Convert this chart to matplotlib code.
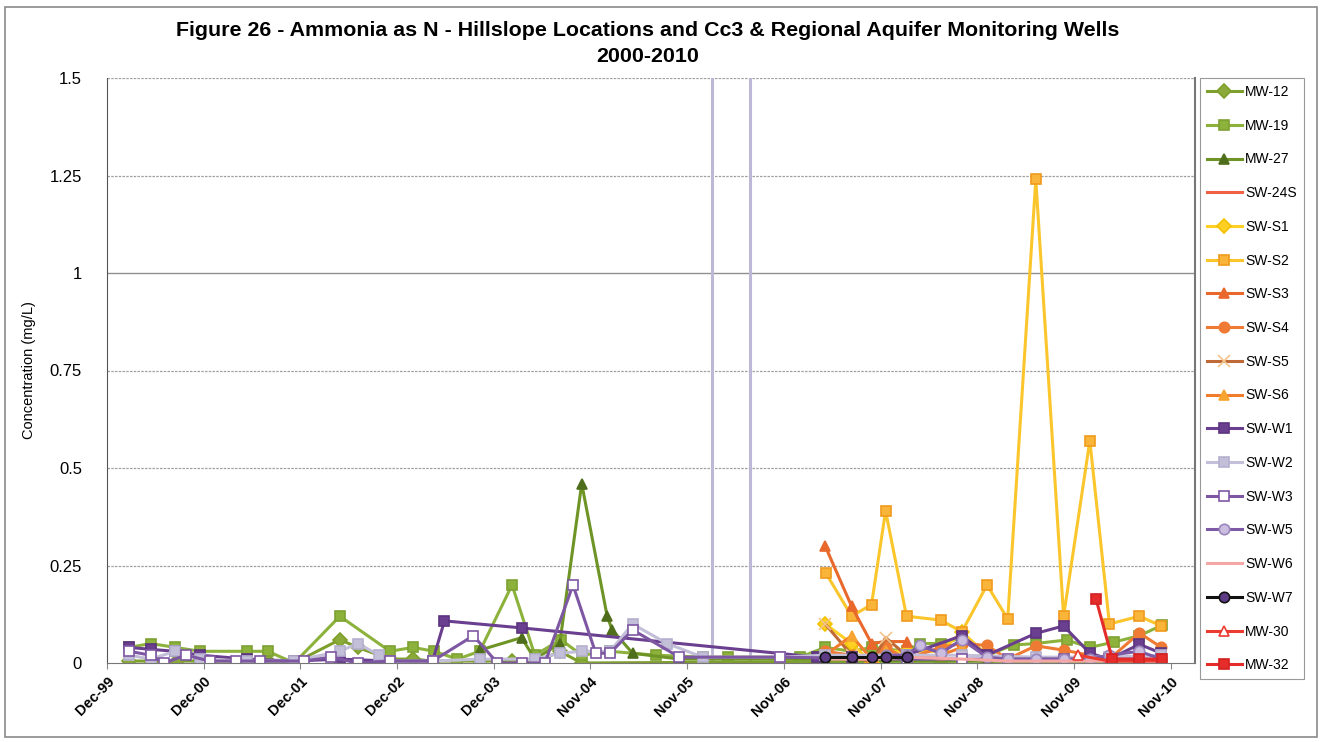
import datetime as dt

import matplotlib
matplotlib.use("Agg")
import matplotlib.pyplot as plt
import matplotlib.dates as mdates
import numpy as np

plt.rcParams['font.family'] = ['Liberation Sans', 'DejaVu Sans']

# ---- data ----
mw12_dates = ['2000-02-24', '2000-05-15', '2000-08-22', '2000-11-18', '2001-05-12', '2001-07-31',
              '2001-11-08', '2002-04-29', '2002-07-05', '2002-11-04', '2003-01-30', '2003-04-14',
              '2003-10-09', '2004-02-08', '2004-05-04', '2004-08-06', '2004-10-28',
              '2008-07-14', '2009-01-05', '2009-07-08', '2010-01-28', '2010-08-03']
mw12_vals = [0.005, 0.005, 0.005, 0.005, 0.005, 0.005, 0.0, 0.06, 0.04, 0.01, 0.01, 0.005,
             0.005, 0.005, 0.0, 0.03, 0.0, 0.005, 0.005, 0.005, 0.005, 0.005]

mw19_dates = ['2000-02-24', '2000-05-15', '2000-08-15', '2000-11-18', '2001-05-12', '2001-07-31',
              '2001-11-08', '2002-04-29', '2002-11-04', '2003-01-30', '2003-04-20', '2003-07-17',
              '2003-10-09', '2004-02-08', '2004-05-04', '2004-08-10', '2004-10-28', '2005-02-12',
              '2005-08-03', '2006-01-28', '2006-05-02', '2006-11-14', '2007-01-29', '2007-05-05',
              '2007-08-13', '2007-10-27', '2008-03-07', '2008-04-26', '2008-07-14', '2008-10-02',
              '2009-01-05', '2009-04-15', '2009-07-08', '2009-11-01', '2010-01-28', '2010-05-01',
              '2010-08-03', '2010-10-28']
mw19_vals = [0.04, 0.05, 0.04, 0.03, 0.03, 0.03, 0.0, 0.12, 0.03, 0.04, 0.03, 0.01,
             0.03, 0.2, 0.02, 0.06, 0.02, 0.03, 0.02, 0.015, 0.015, 0.015, 0.015, 0.04,
             0.03, 0.04, 0.03, 0.05, 0.05, 0.064, 0.02, 0.046, 0.05, 0.059, 0.04, 0.054,
             0.07, 0.097]

mw27_dates = ['2003-10-09', '2004-03-15', '2004-05-04', '2004-08-06', '2004-10-28', '2005-02-01',
              '2005-02-20', '2005-05-08', '2005-11-01', '2007-05-05', '2008-03-07', '2009-01-05',
              '2009-10-21', '2010-08-03']
mw27_vals = [0.033, 0.065, 0.01, 0.05, 0.46, 0.12, 0.085, 0.025, 0.01, 0.01, 0.005, 0.005,
             0.005, 0.005]

sw24s_dates = ['2007-05-05', '2007-08-13', '2007-10-27']
sw24s_vals = [0.02, 0.01, 0.01]

sws1_dates = ['2007-05-05', '2007-08-13', '2007-10-27', '2007-12-19', '2008-03-07', '2008-07-14',
              '2008-10-02', '2009-01-05']
sws1_vals = [0.1, 0.05, 0.0, 0.03, 0.03, 0.03, 0.08, 0.02]

sws2_dates = ['2007-05-08', '2007-08-13', '2007-10-27', '2007-12-19', '2008-03-07', '2008-07-14',
              '2008-10-02', '2009-01-05', '2009-03-24', '2009-07-08', '2009-10-21', '2010-01-28',
              '2010-04-12', '2010-08-03', '2010-10-25']
sws2_vals = [0.23, 0.12, 0.15, 0.39, 0.12, 0.11, 0.08, 0.2, 0.113, 1.24, 0.12, 0.57,
             0.1, 0.12, 0.095]

sws3_dates = ['2007-05-05', '2007-08-13', '2007-10-27', '2007-12-19', '2008-03-07']
sws3_vals = [0.3, 0.145, 0.05, 0.055, 0.055]

sws4_dates = ['2007-05-05', '2007-08-13', '2007-10-27', '2007-12-19', '2008-03-07', '2008-07-14',
              '2008-10-02', '2009-01-05', '2009-03-24', '2009-07-08', '2009-10-21', '2010-01-28',
              '2010-04-12', '2010-08-03', '2010-10-25']
sws4_vals = [0.03, 0.02, 0.01, 0.04, 0.01, 0.04, 0.05, 0.045, 0.01, 0.044, 0.033, 0.02,
             0.01, 0.077, 0.04]

sws5_dates = ['2007-05-05', '2007-08-13', '2007-10-27', '2007-12-19', '2008-03-07']
sws5_vals = [0.1, 0.02, 0.0, 0.065, 0.02]

sws6_dates = ['2007-05-05', '2007-08-13', '2007-10-27', '2007-12-19', '2008-03-07', '2008-07-14',
              '2008-10-02']
sws6_vals = [0.02, 0.07, 0.01, 0.03, 0.01, 0.02, 0.04]

sww1_dates = ['2000-02-24', '2000-05-15', '2000-08-15', '2000-11-18', '2001-05-12', '2001-11-08',
              '2002-04-29', '2002-11-04', '2003-04-14', '2003-05-29', '2004-03-15', '2007-04-05',
              '2007-08-13', '2008-03-07', '2008-10-02', '2009-01-05', '2009-07-08', '2009-10-21',
              '2010-01-28', '2010-04-12', '2010-08-03', '2010-10-25']
sww1_vals = [0.04, 0.035, 0.03, 0.02, 0.01, 0.005, 0.01, 0.005, 0.005, 0.108, 0.09, 0.015,
             0.015, 0.02, 0.07, 0.02, 0.076, 0.095, 0.025, 0.01, 0.048, 0.025]

sww2_dates = ['2000-02-24', '2000-05-15', '2000-08-15', '2000-11-18', '2001-05-12', '2001-11-08',
              '2002-04-29', '2002-07-05', '2002-09-25', '2002-11-04', '2003-04-14', '2003-10-09',
              '2004-05-04', '2004-08-06', '2004-10-28', '2005-02-12', '2005-05-08', '2005-09-15',
              '2006-01-28', '2006-11-14', '2007-05-05', '2008-03-07', '2008-10-02', '2009-07-08',
              '2010-04-12', '2010-10-25']
sww2_vals = [0.02, 0.01, 0.03, 0.01, 0.005, 0.005, 0.03, 0.05, 0.02, 0.005, 0.005, 0.01,
             0.01, 0.025, 0.03, 0.03, 0.1, 0.05, 0.015, 0.015, 0.02, 0.02, 0.02, 0.015,
             0.015, 0.02]

sww3_dates = ['2000-02-24', '2000-05-15', '2000-07-04', '2000-09-25', '2000-12-25', '2001-04-01',
              '2001-07-01', '2001-12-15', '2002-03-25', '2002-07-05', '2002-11-04', '2003-04-14',
              '2003-09-15', '2003-12-15', '2004-03-15', '2004-06-11', '2004-09-25', '2004-12-20',
              '2005-02-12', '2005-05-08', '2005-11-01', '2006-11-14', '2008-03-07', '2008-10-02',
              '2009-03-24', '2009-10-21', '2010-04-12', '2010-10-25']
sww3_vals = [0.03, 0.02, 0.0, 0.02, 0.005, 0.005, 0.005, 0.005, 0.015, 0.0, 0.005, 0.005,
             0.07, 0.0, 0.0, 0.0, 0.2, 0.025, 0.025, 0.085, 0.015, 0.015, 0.01, 0.01,
             0.01, 0.01, 0.01, 0.01]

sww5_dates = ['2007-12-19', '2008-03-07', '2008-04-26', '2008-07-14', '2008-10-02', '2009-01-05',
              '2009-03-24', '2009-07-08', '2009-10-21', '2010-01-28', '2010-04-12', '2010-08-03',
              '2010-10-25']
sww5_vals = [0.02, 0.02, 0.045, 0.025, 0.06, 0.015, 0.01, 0.01, 0.01, 0.01, 0.02, 0.03, 0.01]

sww6_dates = ['2007-05-05', '2007-10-27', '2008-03-07', '2008-10-02', '2009-03-24', '2009-10-21',
              '2010-04-12', '2010-10-25']
sww6_vals = [0.01, 0.01, 0.015, 0.01, 0.005, 0.005, 0.005, 0.005]

sww7_dates = ['2007-05-05', '2007-08-13', '2007-10-27', '2007-12-19', '2008-03-07']
sww7_vals = [0.015, 0.015, 0.015, 0.015, 0.015]

mw30_dates = ['2009-12-15', '2010-04-12', '2010-10-25']
mw30_vals = [0.02, 0.005, 0.005]

mw32_dates = ['2010-02-20', '2010-04-23', '2010-08-03', '2010-10-28']
mw32_vals = [0.165, 0.01, 0.01, 0.01]

marker_lines = ['2006-03-02', '2006-07-27']

# (label, dates, values, line colour, marker, marker face, marker edge)
series = [
    ('MW-12', mw12_dates, mw12_vals, '#7f9f2c', 'D', '#8aab3a', '#7f9f2c'),
    ('MW-19', mw19_dates, mw19_vals, '#8cb23c', 's', '#8cb23c', '#7ea232'),
    ('MW-27', mw27_dates, mw27_vals, '#6f9426', '^', '#4f6e1c', '#4f6e1c'),
    ('SW-24S', sw24s_dates, sw24s_vals, '#ef6044', None, None, None),
    ('SW-S1', sws1_dates, sws1_vals, '#fdd023', 'D', '#fdd023', '#f2c200'),
    ('SW-S2', sws2_dates, sws2_vals, '#fbc62c', 's', '#f9b43a', '#f09a1c'),
    ('SW-S3', sws3_dates, sws3_vals, '#e9682c', '^', '#e9682c', '#e9682c'),
    ('SW-S4', sws4_dates, sws4_vals, '#ee7a34', 'o', '#ee7a34', '#ee7a34'),
    ('SW-S5', sws5_dates, sws5_vals, '#bf6a36', 'x', '#f3c58a', '#f3c58a'),
    ('SW-S6', sws6_dates, sws6_vals, '#f07d2e', '^', '#f7a530', '#f7a530'),
    ('SW-W1', sww1_dates, sww1_vals, '#6a3f8f', 's', '#6a3f8f', '#5b3480'),
    ('SW-W2', sww2_dates, sww2_vals, '#c3bfd9', 's', '#c3bfd9', '#b5b0cf'),
    ('SW-W3', sww3_dates, sww3_vals, '#7e57a3', 's', 'white', '#7e57a3'),
    ('SW-W5', sww5_dates, sww5_vals, '#7d5aa6', 'o', '#cbbde0', '#9a86bc'),
    ('SW-W6', sww6_dates, sww6_vals, '#f5a7a6', None, None, None),
    ('SW-W7', sww7_dates, sww7_vals, '#111111', 'o', '#5d3c85', '#111111'),
    ('MW-30', mw30_dates, mw30_vals, '#ec3b30', '^', 'white', '#ec3b30'),
    ('MW-32', mw32_dates, mw32_vals, '#e42c2a', 's', '#e42c2a', '#d42020'),
]

fig = plt.figure(figsize=(13.23, 7.42), dpi=100)
ax = fig.add_axes([107 / 1323, 1 - 663 / 742, (1195 - 107) / 1323, (663 - 78) / 742])

# outer chart border
fig.patches.append(plt.Rectangle((5 / 1323, 5 / 742), 1312 / 1323, 730 / 742,
                                 transform=fig.transFigure, fill=False,
                                 edgecolor='#8a8a8a', linewidth=1.2))

# horizontal gridlines
for yv in [0.25, 0.5, 0.75, 1.25, 1.5]:
    ax.axhline(yv, color='#a0a0a0', linewidth=0.9, linestyle=(0, (2, 1)), zorder=0)
ax.axhline(1.0, color='#909090', linewidth=1.0, zorder=0)

for d in marker_lines:
    ax.axvline(dt.datetime.strptime(d, '%Y-%m-%d'), color='#bdb8d6', linewidth=2.2, zorder=1)

for label, dates, vals, lc, mk, mfc, mec in series:
    x = [dt.datetime.strptime(d, '%Y-%m-%d') for d in dates]
    ax.plot(x, vals, color=lc, linewidth=2.2, marker=mk, markersize=7.5 if mk != 'x' else 8,
            markerfacecolor=mfc, markeredgecolor=mec, markeredgewidth=1.2, label=label)

start = dt.datetime(1999, 12, 2)
ticks = [start + dt.timedelta(days=365 * k) for k in range(12)]
ax.set_xticks(ticks)
ax.xaxis.set_major_formatter(mdates.DateFormatter('%b-%y'))
ax.set_xlim(start, dt.datetime(2011, 3, 1))
plt.setp(ax.get_xticklabels(), rotation=45, ha='right', rotation_mode='anchor',
         fontsize=10.5, fontweight='bold')

ax.set_ylim(0, 1.5)
ax.set_yticks([0, 0.25, 0.5, 0.75, 1.0, 1.25, 1.5])
ax.set_yticklabels(['0', '0.25', '0.5', '0.75', '1', '1.25', '1.5'], fontsize=12)
ax.set_ylabel('Concentration (mg/L)', fontsize=10.5, labelpad=10)

ax.spines['top'].set_visible(False)
ax.spines['left'].set_color('#555555')
ax.spines['bottom'].set_color('#777777')
ax.spines['right'].set_color('#777777')
ax.spines['right'].set_linewidth(1.5)
ax.tick_params(axis='y', length=0, pad=18)
ax.tick_params(axis='x', length=4, color='#888888', pad=4)

fig.text(648 / 1323, 1 - 30 / 742,
         'Figure 26 - Ammonia as N - Hillslope Locations and Cc3 & Regional Aquifer Monitoring Wells',
         ha='center', va='center', fontsize=15.4, fontweight='bold')
fig.text(648 / 1323, 1 - 57 / 742, '2000-2010', ha='center', va='center',
         fontsize=15.4, fontweight='bold')

leg = fig.legend(loc='upper left', bbox_to_anchor=(1200 / 1323, 1 - 78 / 742),
                 borderaxespad=0, fontsize=10, labelspacing=1.42, handlelength=2.5,
                 handletextpad=0.25, borderpad=0.5, fancybox=False, edgecolor='#999999',
                 framealpha=1)
leg.get_frame().set_linewidth(0.8)

fig.savefig('out.png', dpi=100)
